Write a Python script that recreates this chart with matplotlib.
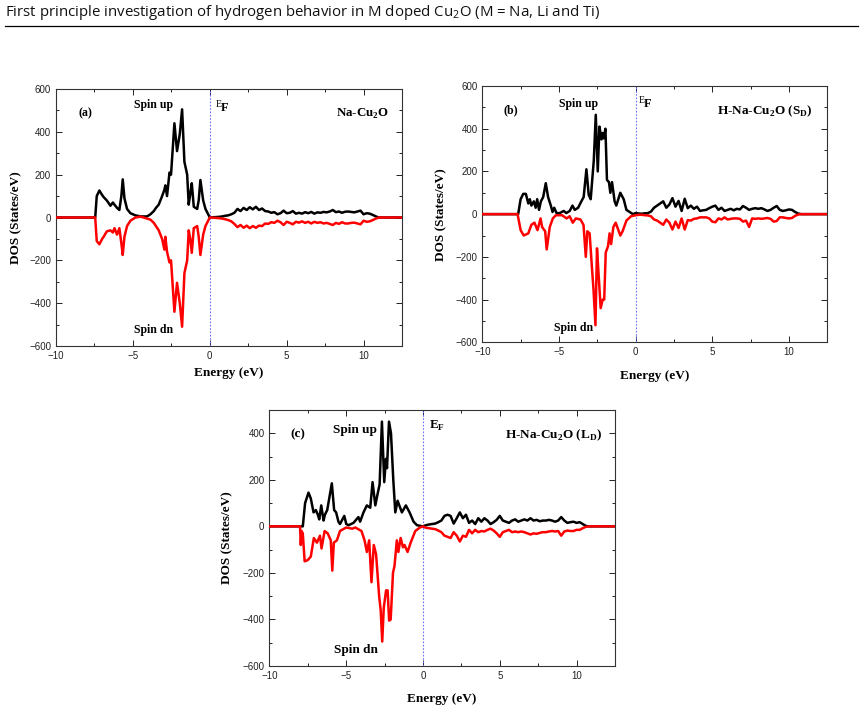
import matplotlib
matplotlib.use("Agg")
import matplotlib.pyplot as plt
from matplotlib.ticker import MultipleLocator

plt.rcParams['mathtext.fontset'] = 'custom'
plt.rcParams['mathtext.rm'] = 'Liberation Serif'
plt.rcParams['mathtext.bf'] = 'Liberation Serif:bold'
plt.rcParams['mathtext.sf'] = 'Open Sans'

# ---------------- data ----------------
cond_E = [0.2, 0.4, 0.6, 0.8, 1.0, 1.2, 1.4, 1.6, 1.8, 2.0, 2.2, 2.4, 2.6, 2.8, 3.0, 3.2, 3.4, 3.6,
          3.8, 4.0, 4.2, 4.4, 4.6, 4.8, 5.0, 5.2, 5.4, 5.6, 5.8, 6.0, 6.2, 6.4, 6.6, 6.8, 7.0, 7.2,
          7.4, 7.6, 7.8, 8.0, 8.2, 8.4, 8.6, 8.8, 9.0, 9.2, 9.4, 9.6, 9.8, 10.0, 10.2, 10.4, 10.6, 10.8]

# panel (a) Na-Cu2O
a_val_E = [-10, -7.45, -7.35, -7.18, -7.0, -6.9, -6.7, -6.46, -6.3, -6.2, -6.03, -5.88, -5.75, -5.66,
           -5.55, -5.38, -5.16, -4.84, -4.5, -4.08, -3.86, -3.64, -3.5, -3.32, -3.1, -2.95, -2.89,
           -2.78, -2.62, -2.52, -2.3, -2.13, -1.95, -1.8, -1.65, -1.47, -1.37, -1.27, -1.17, -1.04,
           -0.82, -0.72, -0.61, -0.43, -0.28, 0.0]
a_val_up = [0, 0, 100, 126, 105, 95, 80, 55, 70, 60, 45, 35, 100, 178, 90, 40, 20, 10, 5, 5, 15, 30,
            45, 60, 100, 130, 150, 100, 210, 200, 440, 310, 390, 505, 260, 200, 60, 110, 160, 50, 40,
            80, 175, 80, 40, 0]
a_val_dn = [0, 0, -110, -125, -100, -90, -65, -60, -70, -50, -80, -50, -120, -175, -90, -40, -15, 0,
            4, -5, -10, -25, -40, -60, -100, -150, -90, -160, -210, -200, -440, -305, -400, -510,
            -260, -200, -60, -100, -165, -50, -40, -90, -175, -80, -40, 0]
a_cond_up = [1, 2, 3, 5, 8, 10, 15, 22, 40, 30, 45, 35, 48, 38, 50, 35, 42, 30, 28, 22, 25, 15, 20,
             32, 20, 22, 30, 18, 22, 18, 25, 20, 26, 18, 24, 22, 26, 24, 28, 35, 25, 28, 22, 27,
             28, 26, 24, 28, 32, 15, 20, 18, 12, 5]
a_cond_dn = [-1, -2, -3, -5, -8, -12, -18, -30, -45, -35, -48, -38, -50, -40, -48, -38, -40, -28,
             -30, -22, -25, -15, -22, -35, -20, -25, -32, -20, -24, -18, -25, -20, -28, -20, -25,
             -22, -28, -25, -30, -35, -25, -30, -22, -28, -28, -25, -24, -28, -32, -15, -20, -18,
             -12, -5]

# panel (b) H-Na-Cu2O (SD)
b_val_E_up = [-10, -7.66, -7.5, -7.33, -7.16, -7.0, -6.9, -6.8, -6.64, -6.52, -6.42, -6.3, -6.18,
              -6.03, -5.86, -5.71, -5.53, -5.42, -5.31, -5.16, -4.95, -4.69, -4.52, -4.3, -4.12,
              -3.97, -3.75, -3.54, -3.39, -3.21, -3.06, -2.93, -2.82, -2.73, -2.6, -2.47, -2.36,
              -2.23, -2.14, -2.08, -1.97, -1.87, -1.74, -1.65, -1.54, -1.37, -1.26, -1.0, -0.78,
              -0.6, -0.39, -0.17, 0.0]
b_val_up = [0, 0, 70, 95, 95, 50, 70, 40, 60, 30, 70, 20, 60, 80, 145, 80, 40, 10, 30, 5, 5, 15, 5,
            15, 40, 20, 30, 60, 80, 210, 90, 70, 170, 250, 465, 200, 410, 350, 380, 355, 400, 160,
            150, 100, 150, 60, 40, 100, 70, 20, 10, 0, 5]
b_val_E_dn = [-10, -7.7, -7.5, -7.3, -7.0, -6.8, -6.6, -6.4, -6.2, -6.1, -5.9, -5.8, -5.6, -5.4,
              -5.2, -4.8, -4.5, -4.3, -4.1, -3.9, -3.6, -3.4, -3.25, -3.15, -3.0, -2.85, -2.75,
              -2.62, -2.52, -2.4, -2.28, -2.15, -2.05, -1.95, -1.8, -1.7, -1.6, -1.45, -1.3, -1.0,
              -0.85, -0.6, -0.3, 0.0]
b_val_dn = [0, 0, -75, -100, -90, -50, -40, -75, -20, -60, -80, -165, -60, -20, -5, -5, -20, -10,
            -40, -20, -25, -50, -200, -80, -90, -250, -350, -520, -160, -300, -440, -400, -400,
            -180, -150, -90, -140, -60, -40, -100, -80, -30, -10, -5]
b_cond_up = [3, 2, 4, 5, 12, 30, 40, 50, 60, 30, 45, 75, 35, 62, 15, 72, 28, 40, 25, 35, 15, 18, 20,
             28, 35, 40, 20, 30, 15, 20, 25, 18, 25, 22, 38, 30, 20, 25, 28, 25, 28, 22, 15, 20, 30,
             38, 20, 15, 18, 22, 20, 10, 3, 0]
b_cond_dn = [-3, -3, -5, -6, -10, -25, -30, -40, -50, -25, -40, -72, -35, -65, -20, -72, -28, -30,
             -22, -20, -15, -15, -15, -20, -35, -38, -20, -25, -15, -25, -22, -20, -20, -22, -35,
             -30, -60, -20, -22, -20, -22, -20, -18, -22, -35, -32, -15, -15, -18, -20, -18, -8,
             -2, 0]

# panel (c) H-Na-Cu2O (LD)
c_val_E_up = [-10, -7.82, -7.67, -7.45, -7.3, -7.12, -6.97, -6.84, -6.75, -6.62, -6.47, -6.38,
              -6.23, -5.93, -5.78, -5.65, -5.5, -5.4, -5.12, -4.99, -4.84, -4.52, -4.2, -4.09,
              -3.87, -3.65, -3.43, -3.28, -3.1, -2.95, -2.82, -2.67, -2.52, -2.41, -2.34, -2.21,
              -2.08, -1.93, -1.8, -1.65, -1.37, -1.11, -0.87, -0.61, -0.39, 0.0]
c_val_up = [0, 0, 100, 145, 120, 60, 70, 50, 30, 90, 25, 50, 70, 185, 70, 60, 20, 10, 45, 10, 5, 15,
            40, 20, 60, 90, 80, 190, 90, 140, 180, 450, 190, 290, 250, 450, 400, 200, 60, 110, 60,
            90, 60, 20, 5, 0]
c_val_E_dn = [-10, -8.0, -7.95, -7.9, -7.82, -7.7, -7.5, -7.3, -7.1, -6.9, -6.7, -6.6, -6.4, -6.2,
              -6.0, -5.9, -5.8, -5.6, -5.4, -5.0, -4.6, -4.4, -4.0, -3.8, -3.65, -3.5, -3.35,
              -3.2, -3.05, -2.85, -2.75, -2.65, -2.55, -2.4, -2.3, -2.2, -2.1, -1.95, -1.85, -1.7,
              -1.6, -1.45, -1.3, -1.2, -1.0, -0.8, -0.5, -0.2, 0.0]
c_val_dn = [0, 0, -80, -20, -30, -150, -145, -130, -50, -70, -40, -95, -20, -30, -60, -190, -70,
            -60, -20, -5, -10, -5, -20, -60, -110, -60, -240, -80, -120, -300, -360, -495, -350,
            -275, -275, -405, -400, -200, -170, -60, -110, -50, -90, -80, -110, -70, -20, -5, 0]
c_cond_up = [5, 8, 10, 12, 18, 25, 45, 50, 45, 12, 35, 60, 35, 50, 15, 25, 10, 35, 20, 35, 25, 10,
             18, 28, 45, 25, 20, 15, 25, 30, 20, 25, 30, 25, 35, 25, 28, 22, 25, 25, 28, 25, 20,
             25, 40, 25, 15, 18, 20, 15, 18, 10, 2, 0]
c_cond_dn = [-6, -8, -10, -12, -18, -25, -40, -45, -50, -25, -40, -65, -40, -45, -15, -30, -15,
             -25, -20, -22, -15, -10, -18, -30, -45, -25, -20, -15, -25, -22, -25, -22, -25, -30,
             -35, -30, -32, -28, -25, -25, -22, -20, -22, -20, -40, -22, -18, -20, -20, -15, -15,
             -8, -2, 0]

tail_E = [11.0, 12.5]
tail_v = [0, 0]

panels = [
    dict(pos=[56 / 863, 1 - 346 / 706, 346 / 863, 257 / 706], ylim=(-600, 600),
         yticks=[-600, -400, -200, 0, 200, 400, 600],
         upE=a_val_E + cond_E + tail_E, up=a_val_up + a_cond_up + tail_v,
         dnE=a_val_E + cond_E + tail_E, dn=a_val_dn + a_cond_dn + tail_v,
         tag='(a)', tagpos=(-8.1, 485), upos=(-3.64, 523), dpos=(-3.64, -527),
         name=r'Na-Cu$_\mathbf{2}$O', npos=(9.9, 483), ef='sup', efpos=(0.37, 527),
         xl=-0.083, yl=-0.098, fs=8.5, nfs=9.3),
    dict(pos=[482.3 / 863, 1 - 342.3 / 706, 345 / 863, 256.3 / 706], ylim=(-600, 600),
         yticks=[-600, -400, -200, 0, 200, 400, 600],
         upE=b_val_E_up + cond_E + tail_E, up=b_val_up + b_cond_up + tail_v,
         dnE=b_val_E_dn + cond_E + tail_E, dn=b_val_dn + b_cond_dn + tail_v,
         tag='(b)', tagpos=(-8.13, 484), upos=(-3.75, 515), dpos=(-4.08, -531),
         name=r'H-Na-Cu$_\mathbf{2}$O (S$_\mathbf{D}$)', npos=(8.4, 480), ef='sup',
         efpos=(0.2, 531), xl=-0.108, yl=-0.102, fs=8.5, nfs=9.5),
    dict(pos=[269.3 / 863, 1 - 666 / 706, 345.7 / 863, 256 / 706], ylim=(-600, 500),
         yticks=[-600, -400, -200, 0, 200, 400],
         upE=c_val_E_up + cond_E + tail_E, up=c_val_up + c_cond_up + tail_v,
         dnE=c_val_E_dn + cond_E + tail_E, dn=c_val_dn + c_cond_dn + tail_v,
         tag='(c)', tagpos=(-8.17, 396), upos=(-4.4, 413), dpos=(-4.34, -530),
         name=r'H-Na-Cu$_\mathbf{2}$O (L$_\mathbf{D}$)', npos=(8.5, 391), ef='sub',
         efpos=(0.37, 431), xl=-0.105, yl=-0.105, fs=9.5, nfs=9.5),
]

fig = plt.figure(figsize=(8.63, 7.06), dpi=100)

fig.text(5 / 863, 1 - 13 / 706, r'First principle investigation of hydrogen behavior in M doped Cu$_\mathsf{2}$O (M = Na, Li and Ti)',
         fontsize=10.8, family='Open Sans', ha='left', va='center', color='#111111')
fig.add_artist(plt.Line2D([5 / 863, 858 / 863], [1 - 26 / 706, 1 - 26 / 706], color='black', lw=0.9))

serif = 'Liberation Serif'
for p in panels:
    ax = fig.add_axes(p['pos'])
    ax.plot(p['upE'], p['up'], color='black', lw=1.8, zorder=3)
    ax.plot(p['dnE'], p['dn'], color='#ff0000', lw=1.8, zorder=4)
    ax.axvline(0, color='#7070ff', lw=0.8, linestyle=(0, (1.5, 1.5)), zorder=2)
    ax.set_xlim(-10, 12.5)
    ax.set_ylim(*p['ylim'])
    ax.set_xticks([-10, -5, 0, 5, 10])
    ax.set_yticks(p['yticks'])
    ax.xaxis.set_minor_locator(MultipleLocator(2.5))
    ax.yaxis.set_minor_locator(MultipleLocator(100))
    ax.tick_params(which='both', direction='in', top=True, right=True, labelsize=7,
                   colors='#222222', width=0.7)
    ax.tick_params(which='major', length=4)
    ax.tick_params(which='minor', length=2)
    for lab in ax.get_xticklabels() + ax.get_yticklabels():
        lab.set_family('Liberation Sans')
    for s in ax.spines.values():
        s.set_linewidth(0.8)
        s.set_color('#333333')
    ax.set_xlabel('Energy (eV)', family=serif, fontweight='bold', fontsize=9.5)
    ax.set_ylabel('DOS (States/eV)', family=serif, fontweight='bold', fontsize=9.5)
    ax.xaxis.set_label_coords(0.5, p['xl'])
    ax.yaxis.set_label_coords(p['yl'], 0.5)
    kw = dict(family=serif, fontweight='bold', fontsize=p['fs'], ha='center', va='center')
    ax.text(*p['tagpos'], p['tag'], **kw)
    ax.text(*p['upos'], 'Spin up', **kw)
    ax.text(*p['dpos'], 'Spin dn', **kw)
    kw['fontsize'] = p['nfs']
    ax.text(*p['npos'], p['name'], **kw)
    ex, ey = p['efpos']
    if p['ef'] == 'sup':
        ax.text(ex, ey, 'E', family=serif, fontsize=7, ha='left', va='center')
        ax.text(ex + 0.32, ey - 15, 'F', family=serif, fontweight='bold', fontsize=9,
                ha='left', va='center')
    else:
        ax.text(ex, ey, r'$\mathbf{E}_\mathbf{F}$', fontsize=9.5, ha='left', va='center')

fig.savefig('out.png', dpi=100)
